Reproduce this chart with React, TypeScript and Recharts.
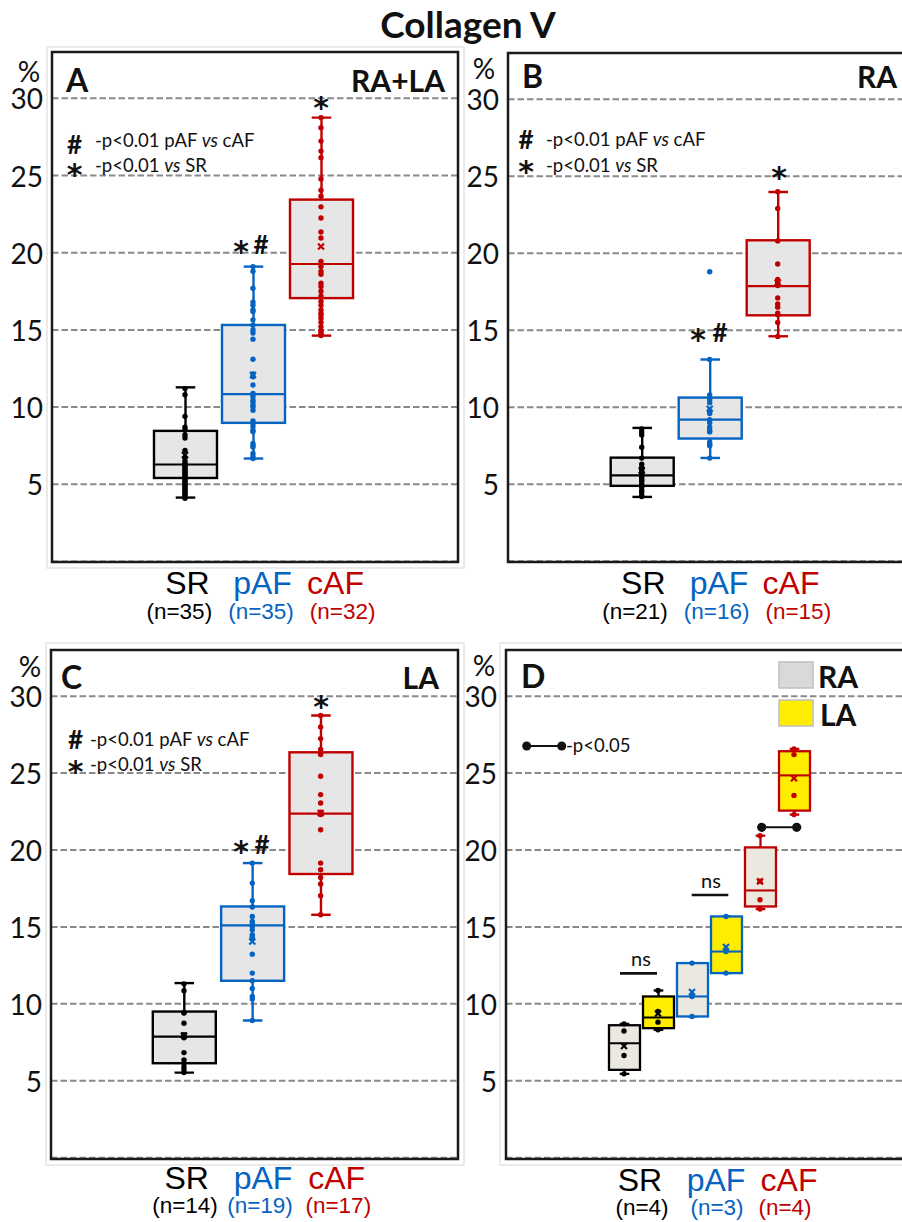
import React from 'react';
import { ComposedChart, Bar, Scatter, XAxis, YAxis, CartesianGrid } from 'recharts';

const C_SR = '#000000';
const C_PAF = '#0563C1';
const C_CAF = '#C00000';
const BOX_FILL = '#E6E6E6';
const RA_FILL = '#EBE8E0';
const LA_FILL = '#FFED00';

const yTicks = [0, 5, 10, 15, 20, 25, 30];
const groupsABC = ['SR', 'pAF', 'cAF'];
const groupColors = [C_SR, C_PAF, C_CAF];
const groupFills = [BOX_FILL, BOX_FILL, BOX_FILL];

// Panel A (RA+LA)
const aMin = [4.14, 6.67, 14.63];
const aQ1 = [5.41, 8.98, 17.06];
const aMed = [6.28, 10.84, 19.27];
const aQ3 = [8.46, 15.32, 23.44];
const aMax = [11.28, 19.1, 28.75];
const aMean = [6.9, 12.08, 20.4];
const aSR = [11.2, 10.8, 9.4, 8.7, 8.5, 8.2, 8.0, 7.2, 6.7, 6.5, 6.3, 6.3, 6.1, 6.0, 5.9, 5.8, 5.7, 5.6, 5.5, 5.4, 5.4, 5.2, 5.1, 5.0, 4.9, 4.8, 4.7, 4.6, 4.5, 4.4, 4.3, 4.2, 6.2, 5.3, 4.1];
const aPAF = [19.1, 18.8, 17.7, 16.8, 16.6, 16.3, 16.2, 15.65, 15.3, 15.0, 14.8, 14.4, 13.1, 12.14, 11.97, 11.43, 10.89, 10.8, 10.67, 10.45, 10.3, 10.1, 10.02, 9.8, 9.11, 8.9, 8.72, 8.5, 8.4, 7.64, 7.5, 7.42, 7.0, 6.8, 6.67];
const aCAF = [28.75, 28.1, 27.23, 26.58, 26.15, 24.78, 24.05, 23.66, 22.97, 22.25, 21.34, 20.95, 19.44, 19.11, 18.79, 18.6, 18.03, 17.81, 17.5, 17.2, 16.84, 16.6, 16.3, 16.08, 15.97, 15.76, 15.5, 15.2, 14.95, 14.8, 14.7, 14.63];

// Panel B (RA)
const bMin = [4.18, 6.71, 14.61];
const bQ1 = [4.9, 7.97, 15.97];
const bMed = [5.58, 9.2, 17.86];
const bQ3 = [6.73, 10.63, 20.84];
const bMax = [8.66, 13.1, 23.98];
const bMean = [5.9, 9.91, 18.1];
const bSR = [8.6, 8.4, 8.2, 7.4, 6.7, 6.3, 6.1, 5.9, 5.8, 5.7, 5.5, 5.4, 5.3, 5.2, 5.0, 4.9, 4.8, 4.6, 4.5, 4.3, 4.2];
const bPAF = [18.8, 13.1, 10.8, 10.5, 10.3, 9.8, 9.6, 9.2, 9.0, 8.7, 8.5, 8.4, 7.75, 7.6, 7.5, 6.7];
const bCAF = [24.0, 22.9, 20.8, 19.3, 18.3, 18.1, 18.0, 17.9, 17.1, 16.7, 16.5, 16.1, 16.0, 15.5, 14.6];

// Panel C (LA)
const cMin = [5.53, 8.92, 15.79];
const cQ1 = [6.14, 11.5, 18.44];
const cMed = [7.87, 15.1, 22.36];
const cQ3 = [9.5, 16.33, 26.35];
const cMax = [11.35, 19.15, 28.74];
const cMean = [7.94, 14.05, 22.4];
const cSR = [11.3, 10.85, 9.44, 9.4, 8.74, 8.0, 7.9, 7.8, 6.83, 6.36, 6.14, 5.9, 5.71, 5.53];
const cPAF = [19.15, 17.85, 16.7, 16.3, 15.68, 15.36, 15.2, 15.03, 14.81, 14.5, 14.38, 14.27, 13.23, 12.0, 11.5, 11.0, 10.48, 10.31, 8.92];
const cCAF = [28.74, 28.0, 27.24, 26.53, 26.2, 24.79, 23.6, 23.06, 22.45, 22.3, 21.32, 19.15, 18.72, 18.22, 17.79, 17.03, 15.79];

// Panel D (RA vs LA, paired)
const dCats = ['SR-RA', 'SR-LA', 'pAF-RA', 'pAF-LA', 'cAF-RA', 'cAF-LA'];
const dColors = [C_SR, C_SR, C_PAF, C_PAF, C_CAF, C_CAF];
const dFills = [RA_FILL, LA_FILL, RA_FILL, LA_FILL, RA_FILL, LA_FILL];
const dMin = [5.45, 8.31, 9.18, 12.0, 16.16, 22.3];
const dQ1 = [5.71, 8.42, 9.18, 12.0, 16.33, 22.56];
const dMed = [7.44, 9.11, 10.48, 13.4, 17.37, 24.85];
const dQ3 = [8.61, 10.48, 12.65, 15.68, 20.17, 26.42];
const dMax = [8.7, 10.87, 12.65, 15.68, 20.93, 26.57];
const dMean = [7.26, 9.37, 10.77, 13.69, 17.96, 24.66];
const dSRRA = [8.7, 8.24, 6.64, 5.45];
const dSRLA = [10.87, 9.5, 8.81, 8.31];
const dPAFRA = [12.65, 10.48, 9.18];
const dPAFLA = [15.68, 13.4, 12.0];
const dCAFRA = [20.93, 17.97, 16.77, 16.16];
const dCAFLA = [26.57, 26.2, 23.55, 22.3];

const nA = ['(n=35)', '(n=35)', '(n=32)'];
const nB = ['(n=21)', '(n=16)', '(n=15)'];
const nC = ['(n=14)', '(n=19)', '(n=17)'];
const nD = ['(n=4)', '(n=3)', '(n=4)'];

const CAL = 'Lato, "Open Sans", sans-serif';
const ARIAL = '"Liberation Sans", Arial, sans-serif';

const YTick = (props: any) => {
  const { x, y, payload } = props;
  if (payload.value === 0) return <g />;
  return (
    <text x={x} y={y + 11} textAnchor="end" fontFamily={CAL} fontSize={28} fill="#111">
      {payload.value}
    </text>
  );
};

const BoxShape = (props: any) => {
  const { x, y, width, height, payload, lw } = props;
  const top = Math.min(y, y + height);
  const bot = Math.max(y, y + height);
  const { min, max, q1, q3, med, stroke, fill } = payload;
  const span = max - min || 1;
  const yv = (v: number) => bot - ((v - min) / span) * (bot - top);
  const cx = x + width / 2;
  const cap = width * 0.31;
  return (
    <g>
      <line x1={cx} x2={cx} y1={yv(max)} y2={yv(min)} stroke={stroke} strokeWidth={lw} />
      <line x1={cx - cap / 2} x2={cx + cap / 2} y1={yv(max)} y2={yv(max)} stroke={stroke} strokeWidth={lw} />
      <line x1={cx - cap / 2} x2={cx + cap / 2} y1={yv(min)} y2={yv(min)} stroke={stroke} strokeWidth={lw} />
      <rect x={x} y={yv(q3)} width={width} height={Math.max(0, yv(q1) - yv(q3))} fill={fill} stroke={stroke} strokeWidth={lw} />
      <line x1={x} x2={x + width} y1={yv(med)} y2={yv(med)} stroke={stroke} strokeWidth={lw * 0.9} />
    </g>
  );
};

const MeanShape = (s: any) => {
  const d = 3;
  const c = (s.payload && s.payload.c) || s.c || '#000';
  return (
    <g stroke={c} strokeWidth={2.2}>
      <line x1={s.cx - d} y1={s.cy - d} x2={s.cx + d} y2={s.cy + d} />
      <line x1={s.cx - d} y1={s.cy + d} x2={s.cx + d} y2={s.cy - d} />
    </g>
  );
};

type PanelProps = {
  left: number; top: number; width: number; height: number;
  mTop: number; mRight: number; mBottom: number;
  yWidth: number; padL: number; padR: number; barSize: number;
  cats: string[]; mins: number[]; q1s: number[]; meds: number[]; q3s: number[]; maxs: number[]; means: number[];
  points: number[][]; strokes: string[]; fills: string[]; lw: number; r: number;
};

function Panel(p: PanelProps) {
  const rows = p.cats.map((name, i) => ({
    name, min: p.mins[i], q1: p.q1s[i], med: p.meds[i], q3: p.q3s[i], max: p.maxs[i],
    stroke: p.strokes[i], fill: p.fills[i],
  }));
  const meanData = p.cats.map((name, i) => ({ name, v: p.means[i], c: p.strokes[i] }));
  return (
    <div style={{ position: 'absolute', left: p.left, top: p.top }}>
      <ComposedChart width={p.width} height={p.height} data={rows}
        margin={{ top: p.mTop, right: p.mRight, bottom: p.mBottom, left: 0 }}>
        <CartesianGrid vertical={false} stroke="#8a8a8a" strokeDasharray="6.5 3" strokeWidth={2} />
        <XAxis dataKey="name" type="category" hide allowDuplicatedCategory={false}
          padding={{ left: p.padL, right: p.padR }} />
        <YAxis type="number" domain={[0, 33]} ticks={yTicks} width={p.yWidth} axisLine={false}
          tickLine={false} tickSize={0} tickMargin={9} tick={<YTick />} interval={0} allowDataOverflow />
        <Bar dataKey={(d: any) => [d.min, d.max]} barSize={p.barSize} isAnimationActive={false}
          shape={(s: any) => <BoxShape {...s} lw={p.lw} />} />
        {p.cats.map((name, i) => (
          <Scatter key={name} data={p.points[i].map((v) => ({ name, v }))} dataKey="v" isAnimationActive={false}
            shape={(s: any) => <circle cx={s.cx} cy={s.cy} r={p.r} fill={p.strokes[i]} />} />
        ))}
        <Scatter data={meanData} dataKey="v" isAnimationActive={false} shape={MeanShape} />
      </ComposedChart>
    </div>
  );
}

const Star = ({ x, y }: { x: number; y: number }) => (
  <text x={x} y={y + 17} textAnchor="middle" fontFamily='"DejaVu Sans", sans-serif' fontWeight={700} fontSize={30} fill="#111">*</text>
);
const Hash = ({ x, y }: { x: number; y: number }) => (
  <text x={x} y={y + 9} textAnchor="middle" fontFamily={CAL} fontWeight={700} fontSize={26} fill="#111">#</text>
);

const LegendText = ({ x, y, tail }: { x: number; y: number; tail: string }) => (
  <text x={x} y={y} fontFamily={CAL} fontSize={18.5} fill="#111">
    -p&lt;0.01 {tail === 'cAF' ? 'pAF ' : ''}<tspan fontStyle="italic">vs</tspan> {tail}
  </text>
);

const XLabels = ({ xs, nxs, y, ny, ns }: { xs: number[]; nxs: number[]; y: number; ny: number; ns: string[] }) => (
  <g>
    {groupsABC.map((g, i) => (
      <text key={g} x={xs[i]} y={y} textAnchor="middle" fontFamily={ARIAL} fontSize={32} fill={groupColors[i]}>{g}</text>
    ))}
    {ns.map((n, i) => (
      <text key={i} x={nxs[i]} y={ny} textAnchor="middle" fontFamily={ARIAL} fontSize={22.5} fill={groupColors[i]}>{n}</text>
    ))}
  </g>
);

export default function App() {
  return (
    <div style={{ position: 'absolute', left: 0, top: 0, width: 902, height: 1222, overflow: 'hidden', background: '#fff' }}>
      <Panel left={0} top={0} width={470} height={640} mTop={52} mRight={12} mBottom={78.5}
        yWidth={52} padL={99} padR={103} barSize={63}
        cats={groupsABC} mins={aMin} q1s={aQ1} meds={aMed} q3s={aQ3} maxs={aMax} means={aMean}
        points={[aSR, aPAF, aCAF]} strokes={groupColors} fills={groupFills} lw={2.4} r={2.7} />
      <Panel left={460} top={0} width={460} height={640} mTop={53} mRight={0} mBottom={78.7}
        yWidth={48} padL={99.7} padR={108.3} barSize={63}
        cats={groupsABC} mins={bMin} q1s={bQ1} meds={bMed} q3s={bQ3} maxs={bMax} means={bMean}
        points={[bSR, bPAF, bCAF]} strokes={groupColors} fills={groupFills} lw={2.4} r={2.7} />
      <Panel left={0} top={600} width={470} height={640} mTop={50} mRight={12} mBottom={82.3}
        yWidth={51} padL={98.8} padR={103.2} barSize={63}
        cats={groupsABC} mins={cMin} q1s={cQ1} meds={cMed} q3s={cQ3} maxs={cMax} means={cMean}
        points={[cSR, cPAF, cCAF]} strokes={groupColors} fills={groupFills} lw={2.4} r={2.7} />
      <Panel left={460} top={600} width={460} height={640} mTop={50} mRight={0} mBottom={82.3}
        yWidth={46} padL={101} padR={109} barSize={31}
        cats={dCats} mins={dMin} q1s={dQ1} meds={dMed} q3s={dQ3} maxs={dMax} means={dMean}
        points={[dSRRA, dSRLA, dPAFRA, dPAFLA, dCAFRA, dCAFLA]} strokes={dColors} fills={dFills} lw={2.3} r={2.7} />

      <svg style={{ position: 'absolute', left: 0, top: 0, pointerEvents: 'none' }} width={902} height={1222}>
        <text x={468} y={38} textAnchor="middle" fontFamily={CAL} fontWeight={700} fontSize={37} fill="#111">Collagen V</text>

        {/* frames */}
        <rect x={47} y={47} width={417} height={521} fill="none" stroke="#e4e4e4" strokeWidth={1.5} />
        <rect x={52} y={52} width={406} height={510} fill="none" stroke="#1a1a1a" strokeWidth={2.5} />
        <rect x={508} y={53} width={420} height={509} fill="none" stroke="#1a1a1a" strokeWidth={2.5} />
        <rect x={46} y={643} width={418} height={522} fill="none" stroke="#e4e4e4" strokeWidth={1.5} />
        <rect x={51} y={650} width={407} height={509} fill="none" stroke="#1a1a1a" strokeWidth={2.5} />
        <rect x={500} y={643} width={420} height={522} fill="none" stroke="#e4e4e4" strokeWidth={1.5} />
        <rect x={506} y={650} width={420} height={509} fill="none" stroke="#1a1a1a" strokeWidth={2.5} />

        {/* percent signs */}
        <text x={29} y={82} textAnchor="middle" fontFamily={CAL} fontSize={28} fill="#111">%</text>
        <text x={484} y={79} textAnchor="middle" fontFamily={CAL} fontSize={28} fill="#111">%</text>
        <text x={30} y={677} textAnchor="middle" fontFamily={CAL} fontSize={28} fill="#111">%</text>
        <text x={484} y={676} textAnchor="middle" fontFamily={CAL} fontSize={28} fill="#111">%</text>

        {/* panel letters and region titles */}
        <text x={66} y={92} fontFamily={CAL} fontWeight={700} fontSize={32} fill="#111">A</text>
        <text x={445} y={92} textAnchor="end" fontFamily={CAL} fontWeight={700} fontSize={30} fill="#111">RA+LA</text>
        <text x={522} y={88} fontFamily={CAL} fontWeight={700} fontSize={32} fill="#111">B</text>
        <text x={857} y={88} fontFamily={CAL} fontWeight={700} fontSize={30} fill="#111">RA</text>
        <text x={61} y={689} fontFamily={CAL} fontWeight={700} fontSize={32} fill="#111">C</text>
        <text x={439} y={689} textAnchor="end" fontFamily={CAL} fontWeight={700} fontSize={30} fill="#111">LA</text>
        <text x={521} y={688} fontFamily={CAL} fontWeight={700} fontSize={32} fill="#111">D</text>

        {/* legends A, B, C */}
        <Hash x={74.5} y={145} /><LegendText x={95} y={147} tail="cAF" />
        <Star x={74.5} y={168} /><LegendText x={95} y={172} tail="SR" />
        <Hash x={526} y={140} /><LegendText x={546} y={146} tail="cAF" />
        <Star x={526} y={165} /><LegendText x={546} y={172} tail="SR" />
        <Hash x={75.5} y={740} /><LegendText x={90} y={746} tail="cAF" />
        <Star x={75.5} y={765} /><LegendText x={90} y={771} tail="SR" />

        {/* significance marks */}
        <Star x={321} y={101} />
        <Star x={241} y={245} /><Hash x={261} y={245} />
        <Star x={779} y={171} />
        <Star x={698} y={333} /><Hash x={720} y={333} />
        <Star x={321} y={700} />
        <Star x={241} y={845} /><Hash x={262} y={845} />

        {/* D legend */}
        <rect x={779} y={662} width={34} height={26} fill="#D9D9D9" stroke="#BFBFBF" strokeWidth={1.5} />
        <text x={818} y={688} fontFamily={CAL} fontWeight={700} fontSize={30} fill="#111">RA</text>
        <rect x={779} y={700} width={34} height={26} fill={LA_FILL} stroke="#BFBFBF" strokeWidth={1.5} />
        <text x={820} y={726} fontFamily={CAL} fontWeight={700} fontSize={30} fill="#111">LA</text>
        <line x1={526.7} x2={561.7} y1={746} y2={746} stroke="#111" strokeWidth={2} />
        <circle cx={526.7} cy={746} r={4.5} fill="#111" />
        <circle cx={561.7} cy={746} r={4.5} fill="#111" />
        <text x={566} y={752} fontFamily={CAL} fontSize={18.5} fill="#111">-p&lt;0.05</text>

        {/* D annotations */}
        <line x1={620} x2={657} y1={973.3} y2={973.3} stroke="#111" strokeWidth={2.7} />
        <text x={641} y={966} textAnchor="middle" fontFamily={CAL} fontSize={20} fill="#111">ns</text>
        <line x1={691.7} x2={728.3} y1={895} y2={895} stroke="#111" strokeWidth={2.7} />
        <text x={711} y={888} textAnchor="middle" fontFamily={CAL} fontSize={20} fill="#111">ns</text>
        <line x1={761.7} x2={796.7} y1={827.3} y2={827.3} stroke="#111" strokeWidth={2} />
        <circle cx={761.7} cy={827.3} r={4.6} fill="#111" />
        <circle cx={796.7} cy={827.3} r={4.6} fill="#111" />

        {/* x labels */}
        <XLabels xs={[187.5, 262.5, 335.5]} nxs={[179.3, 261, 342.7]} y={594} ny={619} ns={nA} />
        <XLabels xs={[643.3, 719, 791]} nxs={[635, 716.7, 798.3]} y={594} ny={619} ns={nB} />
        <XLabels xs={[186.7, 263, 336.7]} nxs={[185, 260, 338.3]} y={1189} ny={1213} ns={nC} />
        <XLabels xs={[640, 716, 789]} nxs={[642, 717, 785]} y={1191} ny={1215} ns={nD} />
      </svg>
    </div>
  );
}
